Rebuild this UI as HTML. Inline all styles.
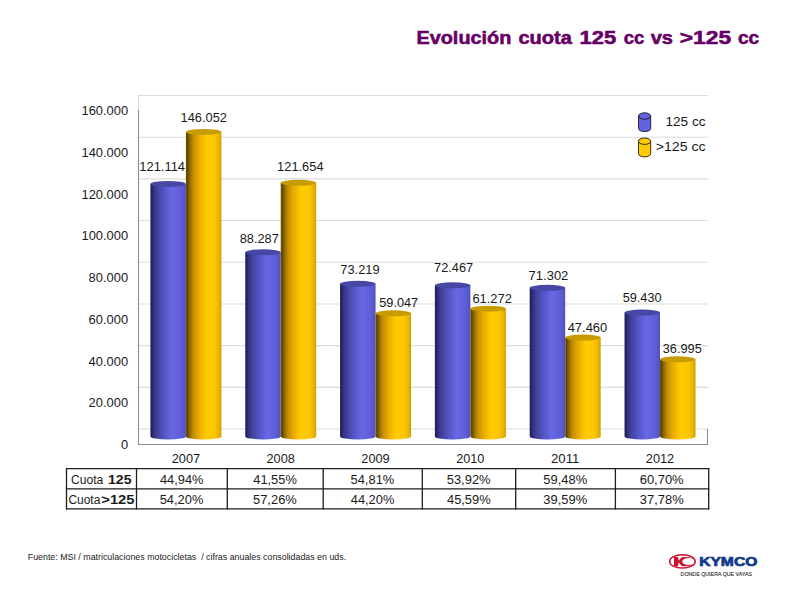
<!DOCTYPE html>
<html><head><meta charset="utf-8"><style>
html,body{margin:0;padding:0;background:#fff;width:800px;height:600px;overflow:hidden}
svg{display:block;font-family:"Liberation Sans", sans-serif;fill:#1a1a1a}
</style></head><body>
<svg width="800" height="600" viewBox="0 0 800 600" fill="#1a1a1a">
<defs>
<linearGradient id="gb" x1="0" x2="1" y1="0" y2="0"><stop offset="0" stop-color="#2c2c6c"/><stop offset="0.03" stop-color="#1e1e58"/><stop offset="0.08" stop-color="#30307c"/><stop offset="0.2" stop-color="#42429c"/><stop offset="0.4" stop-color="#5656c8"/><stop offset="0.62" stop-color="#6868e4"/><stop offset="0.85" stop-color="#5e5ed8"/><stop offset="0.96" stop-color="#5656c8"/><stop offset="1" stop-color="#4c4cb8"/></linearGradient>
<linearGradient id="gy" x1="0" x2="1" y1="0" y2="0"><stop offset="0" stop-color="#7a5a00"/><stop offset="0.04" stop-color="#5e4500"/><stop offset="0.1" stop-color="#8a6600"/><stop offset="0.2" stop-color="#c08c00"/><stop offset="0.35" stop-color="#e8a800"/><stop offset="0.5" stop-color="#f8c000"/><stop offset="0.6" stop-color="#ffcc00"/><stop offset="0.8" stop-color="#fcc600"/><stop offset="0.93" stop-color="#eab400"/><stop offset="1" stop-color="#c8a000"/></linearGradient>
</defs>
<line x1="138" x2="708" y1="95.50" y2="95.50" stroke="#dcdcdc" stroke-width="1.1"/>
<line x1="138" x2="708" y1="137.19" y2="137.19" stroke="#dcdcdc" stroke-width="1.1"/>
<line x1="138" x2="708" y1="178.88" y2="178.88" stroke="#dcdcdc" stroke-width="1.1"/>
<line x1="138" x2="708" y1="220.57" y2="220.57" stroke="#dcdcdc" stroke-width="1.1"/>
<line x1="138" x2="708" y1="262.26" y2="262.26" stroke="#dcdcdc" stroke-width="1.1"/>
<line x1="138" x2="708" y1="303.95" y2="303.95" stroke="#dcdcdc" stroke-width="1.1"/>
<line x1="138" x2="708" y1="345.64" y2="345.64" stroke="#dcdcdc" stroke-width="1.1"/>
<line x1="138" x2="708" y1="387.33" y2="387.33" stroke="#dcdcdc" stroke-width="1.1"/>
<line x1="138" x2="708" y1="429.02" y2="429.02" stroke="#dcdcdc" stroke-width="1.1"/>
<line x1="138.5" x2="138.5" y1="95" y2="110" stroke="#dcdcdc" stroke-width="1"/>
<line x1="138.5" x2="138.5" y1="110" y2="444.5" stroke="#8c8c8c" stroke-width="1.1"/>
<line x1="138" x2="708" y1="444.5" y2="444.5" stroke="#8c8c8c" stroke-width="1.1"/>
<line x1="707.5" x2="707.5" y1="429" y2="445" stroke="#8c8c8c" stroke-width="1.1"/>
<path d="M150.40,183.90 L150.40,436.50 A17.75,3.0 0 0 0 185.90,436.50 L185.90,183.90 Z" fill="url(#gb)"/><ellipse cx="168.15" cy="183.90" rx="17.75" ry="3.0" fill="#4747a6"/>
<path d="M185.90,131.89 L185.90,436.50 A17.75,3.0 0 0 0 221.40,436.50 L221.40,131.89 Z" fill="url(#gy)"/><ellipse cx="203.65" cy="131.89" rx="17.75" ry="3.0" fill="#c89c00"/>
<path d="M245.22,252.37 L245.22,436.50 A17.75,3.0 0 0 0 280.72,436.50 L280.72,252.37 Z" fill="url(#gb)"/><ellipse cx="262.97" cy="252.37" rx="17.75" ry="3.0" fill="#4747a6"/>
<path d="M280.72,182.78 L280.72,436.50 A17.75,3.0 0 0 0 316.22,436.50 L316.22,182.78 Z" fill="url(#gy)"/><ellipse cx="298.47" cy="182.78" rx="17.75" ry="3.0" fill="#c89c00"/>
<path d="M340.04,283.79 L340.04,436.50 A17.75,3.0 0 0 0 375.54,436.50 L375.54,283.79 Z" fill="url(#gb)"/><ellipse cx="357.79" cy="283.79" rx="17.75" ry="3.0" fill="#4747a6"/>
<path d="M375.54,313.35 L375.54,436.50 A17.75,3.0 0 0 0 411.04,436.50 L411.04,313.35 Z" fill="url(#gy)"/><ellipse cx="393.29" cy="313.35" rx="17.75" ry="3.0" fill="#c89c00"/>
<path d="M434.86,285.36 L434.86,436.50 A17.75,3.0 0 0 0 470.36,436.50 L470.36,285.36 Z" fill="url(#gb)"/><ellipse cx="452.61" cy="285.36" rx="17.75" ry="3.0" fill="#4747a6"/>
<path d="M470.36,308.71 L470.36,436.50 A17.75,3.0 0 0 0 505.86,436.50 L505.86,308.71 Z" fill="url(#gy)"/><ellipse cx="488.11" cy="308.71" rx="17.75" ry="3.0" fill="#c89c00"/>
<path d="M529.68,287.79 L529.68,436.50 A17.75,3.0 0 0 0 565.18,436.50 L565.18,287.79 Z" fill="url(#gb)"/><ellipse cx="547.43" cy="287.79" rx="17.75" ry="3.0" fill="#4747a6"/>
<path d="M565.18,337.52 L565.18,436.50 A17.75,3.0 0 0 0 600.68,436.50 L600.68,337.52 Z" fill="url(#gy)"/><ellipse cx="582.93" cy="337.52" rx="17.75" ry="3.0" fill="#c89c00"/>
<path d="M624.50,312.55 L624.50,436.50 A17.75,3.0 0 0 0 660.00,436.50 L660.00,312.55 Z" fill="url(#gb)"/><ellipse cx="642.25" cy="312.55" rx="17.75" ry="3.0" fill="#4747a6"/>
<path d="M660.00,359.34 L660.00,436.50 A17.75,3.0 0 0 0 695.50,436.50 L695.50,359.34 Z" fill="url(#gy)"/><ellipse cx="677.75" cy="359.34" rx="17.75" ry="3.0" fill="#c89c00"/>
<text x="139.29" y="170.90" font-size="12.0" textLength="45.79" lengthAdjust="spacingAndGlyphs">121.114</text>
<text x="180.62" y="121.60" font-size="12.0" textLength="46.27" lengthAdjust="spacingAndGlyphs">146.052</text>
<text x="239.70" y="242.50" font-size="12.0" textLength="39.05" lengthAdjust="spacingAndGlyphs">88.287</text>
<text x="277.12" y="171.10" font-size="12.0" textLength="46.46" lengthAdjust="spacingAndGlyphs">121.654</text>
<text x="340.34" y="274.40" font-size="12.0" textLength="39.27" lengthAdjust="spacingAndGlyphs">73.219</text>
<text x="379.24" y="306.50" font-size="12.0" textLength="38.90" lengthAdjust="spacingAndGlyphs">59.047</text>
<text x="434.10" y="272.25" font-size="12.0" textLength="39.05" lengthAdjust="spacingAndGlyphs">72.467</text>
<text x="472.44" y="302.50" font-size="12.0" textLength="39.45" lengthAdjust="spacingAndGlyphs">61.272</text>
<text x="528.63" y="280.20" font-size="12.0" textLength="39.72" lengthAdjust="spacingAndGlyphs">71.302</text>
<text x="567.70" y="332.00" font-size="12.0" textLength="39.50" lengthAdjust="spacingAndGlyphs">47.460</text>
<text x="622.69" y="301.70" font-size="12.0" textLength="38.80" lengthAdjust="spacingAndGlyphs">59.430</text>
<text x="662.71" y="352.70" font-size="12.0" textLength="39.02" lengthAdjust="spacingAndGlyphs">36.995</text>
<text x="81.47" y="115.40" font-size="12.0" textLength="46.64" lengthAdjust="spacingAndGlyphs">160.000</text>
<text x="81.47" y="157.09" font-size="12.0" textLength="46.64" lengthAdjust="spacingAndGlyphs">140.000</text>
<text x="81.47" y="198.78" font-size="12.0" textLength="46.64" lengthAdjust="spacingAndGlyphs">120.000</text>
<text x="81.47" y="240.47" font-size="12.0" textLength="46.64" lengthAdjust="spacingAndGlyphs">100.000</text>
<text x="88.64" y="282.16" font-size="12.0" textLength="39.46" lengthAdjust="spacingAndGlyphs">80.000</text>
<text x="88.64" y="323.85" font-size="12.0" textLength="39.46" lengthAdjust="spacingAndGlyphs">60.000</text>
<text x="88.64" y="365.54" font-size="12.0" textLength="39.46" lengthAdjust="spacingAndGlyphs">40.000</text>
<text x="88.64" y="407.23" font-size="12.0" textLength="39.46" lengthAdjust="spacingAndGlyphs">20.000</text>
<text x="120.93" y="448.92" font-size="12.0" textLength="7.18" lengthAdjust="spacingAndGlyphs">0</text>
<text x="171.71" y="463.10" font-size="12.3" textLength="28.38" lengthAdjust="spacingAndGlyphs">2007</text>
<text x="266.53" y="463.10" font-size="12.3" textLength="28.29" lengthAdjust="spacingAndGlyphs">2008</text>
<text x="361.35" y="463.10" font-size="12.3" textLength="28.34" lengthAdjust="spacingAndGlyphs">2009</text>
<text x="456.17" y="463.10" font-size="12.3" textLength="28.23" lengthAdjust="spacingAndGlyphs">2010</text>
<text x="550.99" y="463.10" font-size="12.3" textLength="28.36" lengthAdjust="spacingAndGlyphs">2011</text>
<text x="645.81" y="463.10" font-size="12.3" textLength="28.38" lengthAdjust="spacingAndGlyphs">2012</text>
<path d="M638.5,116.0 L638.5,128.4 A6.100000000000023,3.2 0 0 0 650.7,128.4 L650.7,116.0 Z" fill="#6262e2" stroke="#1a1a1a" stroke-width="0.9"/><ellipse cx="644.6" cy="116.0" rx="6.100000000000023" ry="3.2" fill="#6262e2" stroke="#1a1a1a" stroke-width="0.9"/>
<path d="M638.5,141.2 L638.5,153.7 A6.100000000000023,3.2 0 0 0 650.7,153.7 L650.7,141.2 Z" fill="#ffcc00" stroke="#1a1a1a" stroke-width="0.9"/><ellipse cx="644.6" cy="141.2" rx="6.100000000000023" ry="3.2" fill="#ffcc00" stroke="#1a1a1a" stroke-width="0.9"/>
<text x="665.46" y="126.00" font-size="12.0" textLength="40.10" lengthAdjust="spacingAndGlyphs">125 cc</text>
<text x="655.80" y="151.00" font-size="12.0" textLength="49.77" lengthAdjust="spacingAndGlyphs">&gt;125 cc</text>
<line x1="65.9" x2="709.3000000000001" y1="468.7" y2="468.7" stroke="#1e1e1e" stroke-width="1.3"/>
<line x1="65.9" x2="709.3000000000001" y1="488.8" y2="488.8" stroke="#1e1e1e" stroke-width="1.3"/>
<line x1="65.9" x2="709.3000000000001" y1="508.8" y2="508.8" stroke="#1e1e1e" stroke-width="1.3"/>
<line x1="66.5" x2="66.5" y1="468.09999999999997" y2="509.40000000000003" stroke="#1e1e1e" stroke-width="1.3"/>
<line x1="136.5" x2="136.5" y1="468.09999999999997" y2="509.40000000000003" stroke="#1e1e1e" stroke-width="1.3"/>
<line x1="227.3" x2="227.3" y1="468.09999999999997" y2="509.40000000000003" stroke="#1e1e1e" stroke-width="1.3"/>
<line x1="323.2" x2="323.2" y1="468.09999999999997" y2="509.40000000000003" stroke="#1e1e1e" stroke-width="1.3"/>
<line x1="422.3" x2="422.3" y1="468.09999999999997" y2="509.40000000000003" stroke="#1e1e1e" stroke-width="1.3"/>
<line x1="515.7" x2="515.7" y1="468.09999999999997" y2="509.40000000000003" stroke="#1e1e1e" stroke-width="1.3"/>
<line x1="615.4" x2="615.4" y1="468.09999999999997" y2="509.40000000000003" stroke="#1e1e1e" stroke-width="1.3"/>
<line x1="708.7" x2="708.7" y1="468.09999999999997" y2="509.40000000000003" stroke="#1e1e1e" stroke-width="1.3"/>
<text x="159.91" y="483.70" font-size="12.0" textLength="43.55" lengthAdjust="spacingAndGlyphs">44,94%</text>
<text x="159.68" y="503.60" font-size="12.0" textLength="43.78" lengthAdjust="spacingAndGlyphs">54,20%</text>
<text x="253.26" y="483.70" font-size="12.0" textLength="43.55" lengthAdjust="spacingAndGlyphs">41,55%</text>
<text x="253.03" y="503.60" font-size="12.0" textLength="43.78" lengthAdjust="spacingAndGlyphs">57,26%</text>
<text x="350.53" y="483.70" font-size="12.0" textLength="43.78" lengthAdjust="spacingAndGlyphs">54,81%</text>
<text x="350.76" y="503.60" font-size="12.0" textLength="43.55" lengthAdjust="spacingAndGlyphs">44,20%</text>
<text x="446.78" y="483.70" font-size="12.0" textLength="43.78" lengthAdjust="spacingAndGlyphs">53,92%</text>
<text x="447.01" y="503.60" font-size="12.0" textLength="43.55" lengthAdjust="spacingAndGlyphs">45,59%</text>
<text x="543.33" y="483.70" font-size="12.0" textLength="43.78" lengthAdjust="spacingAndGlyphs">59,48%</text>
<text x="543.36" y="503.60" font-size="12.0" textLength="43.75" lengthAdjust="spacingAndGlyphs">39,59%</text>
<text x="639.69" y="483.70" font-size="12.0" textLength="43.92" lengthAdjust="spacingAndGlyphs">60,70%</text>
<text x="639.86" y="503.60" font-size="12.0" textLength="43.75" lengthAdjust="spacingAndGlyphs">37,78%</text>
<text x="71.09" y="483.70" font-size="12.0" textLength="32.11" lengthAdjust="spacingAndGlyphs">Cuota</text>
<text x="108.01" y="483.70" font-size="12.0" font-weight="bold" textLength="23.58" lengthAdjust="spacingAndGlyphs">125</text>
<text x="68.49" y="503.60" font-size="12.0" textLength="31.81" lengthAdjust="spacingAndGlyphs">Cuota</text>
<text x="101.28" y="503.60" font-size="12.0" font-weight="bold" textLength="33.23" lengthAdjust="spacingAndGlyphs">&gt;125</text>
<text stroke="#660066" stroke-width="0.55" x="416.47" y="43.70" font-size="18.5" font-weight="bold" fill="#660066" textLength="94.86" lengthAdjust="spacingAndGlyphs">Evolución</text>
<text stroke="#660066" stroke-width="0.55" x="518.42" y="43.70" font-size="18.5" font-weight="bold" fill="#660066" textLength="53.46" lengthAdjust="spacingAndGlyphs">cuota</text>
<text stroke="#660066" stroke-width="0.55" x="579.61" y="43.70" font-size="18.5" font-weight="bold" fill="#660066" textLength="36.70" lengthAdjust="spacingAndGlyphs">125</text>
<text stroke="#660066" stroke-width="0.55" x="623.77" y="43.70" font-size="18.5" font-weight="bold" fill="#660066" textLength="20.67" lengthAdjust="spacingAndGlyphs">cc</text>
<text stroke="#660066" stroke-width="0.55" x="650.72" y="43.70" font-size="18.5" font-weight="bold" fill="#660066" textLength="22.30" lengthAdjust="spacingAndGlyphs">vs</text>
<text stroke="#660066" stroke-width="0.55" x="679.74" y="43.70" font-size="18.5" font-weight="bold" fill="#660066" textLength="51.39" lengthAdjust="spacingAndGlyphs">&gt;125</text>
<text stroke="#660066" stroke-width="0.55" x="737.96" y="43.70" font-size="18.5" font-weight="bold" fill="#660066" textLength="21.20" lengthAdjust="spacingAndGlyphs">cc</text>
<text x="27.77" y="559.90" font-size="8.7" fill="#222" textLength="318.33" lengthAdjust="spacingAndGlyphs">Fuente: MSI / matriculaciones motocicletas  / cifras anuales consolidadas en uds.</text>
<ellipse cx="685.2" cy="561.6" rx="10.6" ry="4.7" fill="#cc1030"/>
<ellipse cx="688.8" cy="561.5" rx="6.6" ry="3.6" fill="#fff"/>
<polygon points="677.9,555.8 682.6,555.8 678.7,560.7" fill="#fff"/>
<polygon points="677.9,567.2 682.6,567.2 678.7,562.3" fill="#fff"/>
<rect x="674" y="557" width="3.9" height="9.6" fill="#cc1030"/>
<ellipse cx="682.4" cy="561.4" rx="12.8" ry="6.6" fill="none" stroke="#cc1030" stroke-width="1.4"/>
<text stroke="#143a8a" stroke-width="0.7" x="699.15" y="565.60" font-size="12" font-weight="bold" fill="#143a8a" textLength="58.20" lengthAdjust="spacingAndGlyphs">KYMCO</text>
<text stroke="#333" stroke-width="0.15" x="680.57" y="576.20" font-size="5.9" fill="#333" textLength="71.56" lengthAdjust="spacingAndGlyphs">DONDE QUIERA QUE VAYAS</text>
</svg>
</body></html>
